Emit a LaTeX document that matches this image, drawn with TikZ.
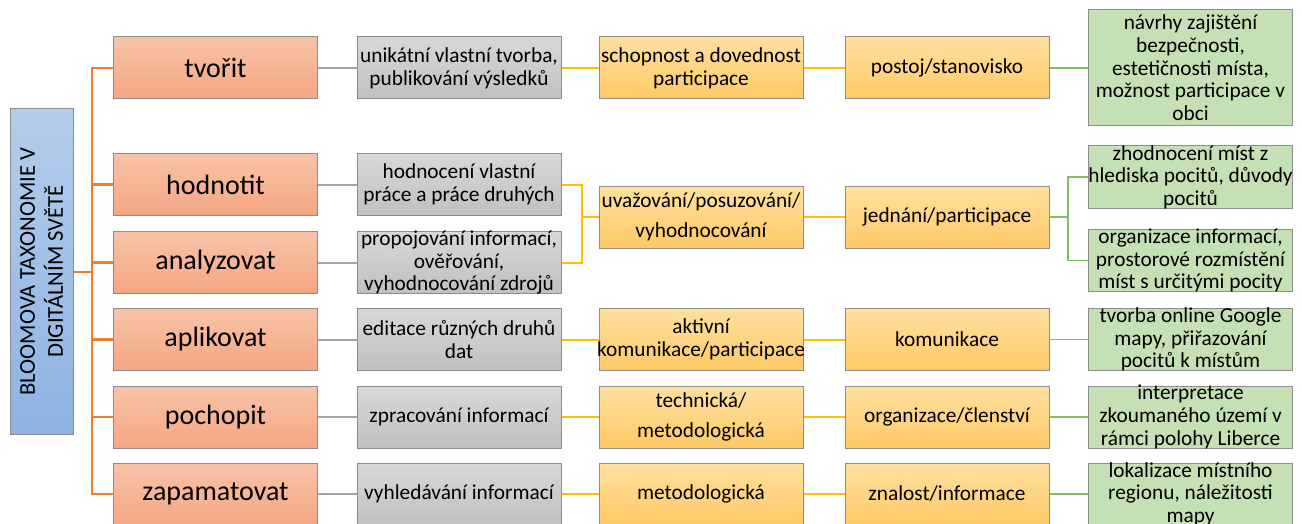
\documentclass[tikz,border=0pt]{standalone}
\usepackage{fontspec}
\setmainfont{Carlito}
\usetikzlibrary{calc}

\definecolor{orTop}{HTML}{F8C3A8}
\definecolor{orBot}{HTML}{F4A683}
\definecolor{grTop}{HTML}{D8D8D8}
\definecolor{grBot}{HTML}{C0C0C0}
\definecolor{yeTop}{HTML}{FFE0A0}
\definecolor{yeBot}{HTML}{FFC966}
\definecolor{gnFill}{HTML}{C6E0B5}
\definecolor{blTop}{HTML}{B4CCEB}
\definecolor{blBot}{HTML}{8DB3E2}
\definecolor{edge}{HTML}{8C8C8C}
\definecolor{lnOrange}{HTML}{ED7D31}
\definecolor{lnGrey}{HTML}{A5A5A5}
\definecolor{lnYellow}{HTML}{FFC000}
\definecolor{lnGreen}{HTML}{84BC62}

\tikzset{
  box/.style={draw=edge, line width=0.75pt, inner sep=0pt,
    minimum width=153pt, minimum height=46.5pt},
  level/.style={box, top color=orTop, bottom color=orBot},
  activity/.style={box, top color=grTop, bottom color=grBot},
  skill/.style={box, top color=yeTop, bottom color=yeBot},
  outcome/.style={box, fill=gnFill},
  root/.style={draw=edge, line width=0.75pt, inner sep=0pt,
    minimum width=47.25pt, minimum height=244.5pt,
    top color=blTop, bottom color=blBot},
  txt/.style={align=center, inner sep=0pt, font=\fontsize{16}{17}\selectfont},
  bigtxt/.style={align=center, inner sep=0pt, font=\fontsize{21}{25}\selectfont},
  wide/.style={font=\fontsize{16}{22.5}\selectfont},
  ln orange/.style={draw=lnOrange, line width=1.9pt},
  ln grey/.style={draw=lnGrey, line width=1.5pt},
  ln yellow/.style={draw=lnYellow, line width=1.5pt},
  ln green/.style={draw=lnGreen, line width=1.3pt},
}

\begin{document}
\begin{tikzpicture}[x=0.75pt, y=-0.75pt]
\useasboundingbox (0,0) rectangle (1302,524);

% root
\node[root] (root) at (41.5,271.5) {};
\node[align=center, inner sep=0pt, rotate=90,
      font=\fontsize{17}{21}\selectfont] (root-t) at (root.center)
  {BLOOMOVA TAXONOMIE V\\DIGITÁLNÍM SVĚTĚ};

% column 1: levels of the taxonomy
\node[level] (o1) at (215.5,68)    {};
\node[level] (o2) at (215.5,184.5) {};
\node[level] (o3) at (215.5,262.5) {};
\node[level] (o4) at (215.5,339.5) {};
\node[level] (o5) at (215.5,417)   {};
\node[level] (o6) at (215.5,494)   {};
\node[bigtxt] (o1-t) at (o1) {tvořit};
\node[bigtxt] (o2-t) at (o2) {hodnotit};
\node[bigtxt] (o3-t) at (o3) {analyzovat};
\node[bigtxt] (o4-t) at (o4) {aplikovat};
\node[bigtxt] (o5-t) at (o5) {pochopit};
\node[bigtxt] (o6-t) at (o6) {zapamatovat};

% column 2: activities
\node[activity] (g1) at (459,68)    {};
\node[activity] (g2) at (459,184.5) {};
\node[activity] (g3) at (459,262.5) {};
\node[activity] (g4) at (459,339.5) {};
\node[activity] (g5) at (459,417)   {};
\node[activity] (g6) at (459,494)   {};
\node[txt] (g1-t) at (g1) {unikátní vlastní tvorba,\\publikování výsledků};
\node[txt] (g2-t) at (g2) {hodnocení vlastní\\práce a práce druhých};
\node[txt] (g3-t) at (g3) {propojování informací,\\ověřování,\\vyhodnocování zdrojů};
\node[txt] (g4-t) at (g4) {editace různých druhů\\dat};
\node[txt] (g5-t) at (g5) {zpracování informací};
\node[txt] (g6-t) at (g6) {vyhledávání informací};

% column 3: skills
\node[skill] (y1) at (701,68)    {};
\node[skill] (y2) at (701,217)   {};
\node[skill] (y4) at (701,339.5) {};
\node[skill] (y5) at (701,417)   {};
\node[skill] (y6) at (701,494)   {};
\node[txt] (y1-t) at (y1) {schopnost a dovednost\\participace};
\node[txt, wide] (y2-t) at (y2) {uvažování/posuzování/\\vyhodnocování};
\node[txt] (y4-t) at (y4) {aktivní\\komunikace/participace};
\node[txt, wide] (y5-t) at (y5) {technická/\\metodologická};
\node[txt] (y6-t) at (y6) {metodologická};

% column 4: attitudes
\node[skill] (z1) at (947,68)    {};
\node[skill] (z2) at (947,217)   {};
\node[skill] (z4) at (947,339.5) {};
\node[skill] (z5) at (947,417)   {};
\node[skill] (z6) at (947,494)   {};
\node[txt] (z1-t) at (z1) {postoj/stanovisko};
\node[txt] (z2-t) at (z2) {jednání/participace};
\node[txt] (z4-t) at (z4) {komunikace};
\node[txt] (z5-t) at (z5) {organizace/členství};
\node[txt] (z6-t) at (z6) {znalost/informace};

% column 5: outcomes
\node[outcome, minimum height=87pt] (e1) at (1190.5,68) {};
\node[outcome] (e2) at (1190.5,177)   {};
\node[outcome] (e3) at (1190.5,260.5) {};
\node[outcome] (e4) at (1190.5,339.5) {};
\node[outcome] (e5) at (1190.5,417)   {};
\node[outcome] (e6) at (1190.5,494)   {};
\node[txt] (e1-t) at (e1) {návrhy zajištění\\bezpečnosti,\\estetičnosti místa,\\možnost participace v\\obci};
\node[txt] (e2-t) at (e2) {zhodnocení míst z\\hlediska pocitů, důvody\\pocitů};
\node[txt] (e3-t) at (e3) {organizace informací,\\prostorové rozmístění\\míst s určitými pocity};
\node[txt] (e4-t) at (e4) {tvorba online Google\\mapy, přiřazování\\pocitů k místům};
\node[txt] (e5-t) at (e5) {interpretace\\zkoumaného území v\\rámci polohy Liberce};
\node[txt] (e6-t) at (e6) {lokalizace místního\\regionu, náležitosti\\mapy};

% connectors
\coordinate (bus) at (92,272);
\draw[ln orange] (root.east |- bus) -- (bus);
\foreach \i in {1,...,6} \draw[ln orange] (bus) |- (o\i.west);

\foreach \i in {1,...,6} \draw[ln grey] (o\i.east) -- (g\i.west);

\coordinate (merge) at (582,217);
\draw[ln yellow] (g2.east) -| (merge) |- (g3.east);
\draw[ln yellow] (merge) -- (y2.west);
\foreach \i in {1,4,5,6} \draw[ln yellow] (g\i.east) -- (y\i.west);
\foreach \i in {1,2,4,5,6} \draw[ln yellow] (y\i.east) -- (z\i.west);

\coordinate (split) at (1068,217);
\draw[ln green] (z2.east) -- (split);
\draw[ln green] (split) |- (e2.west);
\draw[ln green] (split) |- (e3.west);
\foreach \i in {1,4,5,6} \draw[ln green] (z\i.east) -- (e\i.west);
\end{tikzpicture}
\end{document}
